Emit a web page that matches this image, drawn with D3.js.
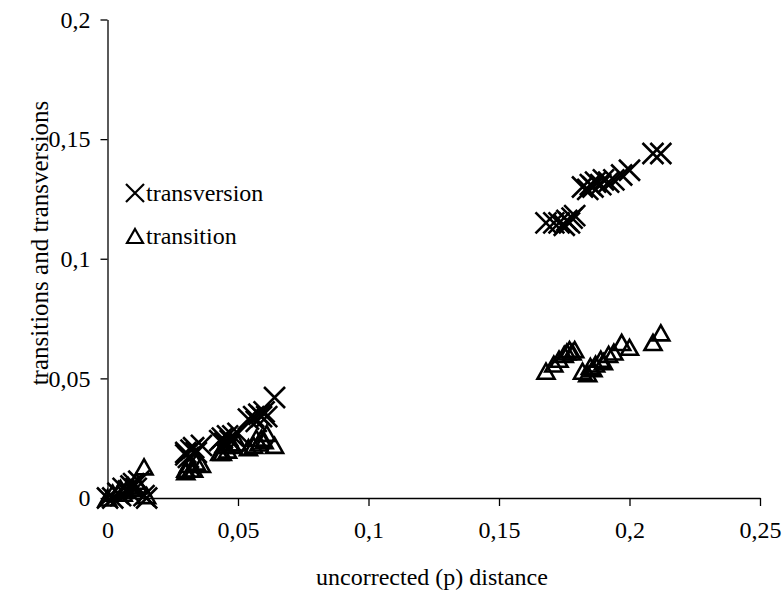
<!DOCTYPE html>
<html>
<head>
<meta charset="utf-8">
<script src="https://cdn.jsdelivr.net/npm/d3@7"></script>
<style>
  body { margin: 0; background: #fff; }
  svg text { font-family: "Liberation Serif", "Times New Roman", serif; fill: #000; }
</style>
</head>
<body>
<svg id="chart" width="783" height="591"></svg>
<script>
// uncorrected p distance of each pair, with its transversion and transition share
var pDistance   = [0, 0.002, 0.004, 0.005, 0.006, 0.008, 0.009, 0.010, 0.011, 0.012, 0.014, 0.015,
                   0.030, 0.030, 0.031, 0.032, 0.033, 0.034, 0.036,
                   0.043, 0.044, 0.045, 0.046, 0.047, 0.048, 0.050,
                   0.054, 0.056, 0.057, 0.058, 0.059, 0.060, 0.061, 0.064,
                   0.168, 0.171, 0.173, 0.175, 0.176, 0.177, 0.178, 0.179,
                   0.182, 0.184, 0.185, 0.186, 0.187, 0.189, 0.190, 0.192, 0.194, 0.197, 0.200,
                   0.209, 0.212];
var transversions = [0, 0, 0.002, 0.001, 0.004, 0.003, 0.005, 0.006, 0.004, 0.007, 0.001, 0,
                   0.018, 0.019, 0.017, 0.020, 0.021, 0.019, 0.022,
                   0.024, 0.025, 0.023, 0.026, 0.024, 0.026, 0.027,
                   0.033, 0.034, 0.032, 0.035, 0.034, 0.036, 0.034, 0.042,
                   0.115, 0.115, 0.115, 0.114, 0.116, 0.115, 0.117, 0.118,
                   0.130, 0.129, 0.131, 0.130, 0.132, 0.131, 0.133, 0.132, 0.133, 0.135, 0.137,
                   0.144, 0.144];
var transitions = [0, 0.002, 0.002, 0.004, 0.002, 0.005, 0.004, 0.004, 0.007, 0.005, 0.013, 0.001,
                   0.012, 0.011, 0.014, 0.012, 0.012, 0.015, 0.014,
                   0.019, 0.019, 0.022, 0.020, 0.023, 0.022, 0.023,
                   0.021, 0.022, 0.025, 0.023, 0.025, 0.024, 0.027, 0.022,
                   0.053, 0.056, 0.058, 0.060, 0.061, 0.062, 0.061, 0.062,
                   0.053, 0.052, 0.055, 0.054, 0.056, 0.058, 0.057, 0.060, 0.061, 0.065, 0.063,
                   0.065, 0.069];
var xTicks = [0, 0.05, 0.1, 0.15, 0.2, 0.25];
var yTicks = [0, 0.05, 0.1, 0.15, 0.2];
var seriesNames = ['transversion', 'transition'];

var svg = d3.select('#chart');
var x = d3.scaleLinear().domain([0, 0.25]).range([107.5, 760]);
var y = d3.scaleLinear().domain([0, 0.2]).range([498, 19.5]);
var fmt = (d) => String(d).replace('.', ',');

var xAxis = svg.append('g')
  .attr('transform', 'translate(0,' + y(0) + ')')
  .call(d3.axisBottom(x).tickValues(xTicks).tickFormat(fmt).tickSize(8).tickSizeOuter(0).tickPadding(15));
var yAxis = svg.append('g')
  .attr('transform', 'translate(' + x(0) + ',0)')
  .call(d3.axisLeft(y).tickValues(yTicks).tickFormat(fmt).tickSize(7).tickSizeOuter(0).tickPadding(10));

[xAxis, yAxis].forEach(function(ax) {
  ax.select('.domain').attr('stroke', '#000').attr('stroke-width', 1.3);
  ax.selectAll('.tick line').attr('stroke', '#000').attr('stroke-width', 1.3);
  ax.selectAll('.tick text').attr('font-size', 24).attr('font-family', '"Liberation Serif", serif');
});

// marker shapes
var crossPath = function(s) { return 'M' + (-s) + ',' + (-s) + 'L' + s + ',' + s + 'M' + (-s) + ',' + s + 'L' + s + ',' + (-s); };
var triPath = function(w, h) { return 'M0,' + (-h / 2) + 'L' + (w / 2) + ',' + (h / 2) + 'L' + (-w / 2) + ',' + (h / 2) + 'Z'; };

var pts = pDistance.map((p, i) => ({p: p, tv: transversions[i], ts: transitions[i]}));

svg.append('g').selectAll('path')
  .data(pts)
  .enter().append('path')
  .attr('d', triPath(17, 15))
  .attr('transform', (d) => 'translate(' + x(d.p) + ',' + y(d.ts) + ')')
  .attr('fill', 'none').attr('stroke', '#000').attr('stroke-width', 2.6);

svg.append('g').selectAll('path')
  .data(pts)
  .enter().append('path')
  .attr('d', crossPath(10.5))
  .attr('transform', (d) => 'translate(' + x(d.p) + ',' + y(d.tv) + ')')
  .attr('fill', 'none').attr('stroke', '#000').attr('stroke-width', 2.6);

// legend
var legend = svg.append('g');
legend.append('path').attr('d', crossPath(9)).attr('transform', 'translate(135,193)')
  .attr('fill', 'none').attr('stroke', '#000').attr('stroke-width', 2.2);
legend.append('path').attr('d', triPath(16, 14)).attr('transform', 'translate(135,236)')
  .attr('fill', 'none').attr('stroke', '#000').attr('stroke-width', 2.2);
legend.selectAll('text')
  .data(seriesNames)
  .enter().append('text')
  .attr('x', 146)
  .attr('y', (d, i) => 201 + i * 43)
  .attr('font-size', 24)
  .text((d) => d);

// axis titles
svg.append('text')
  .attr('x', 432).attr('y', 585)
  .attr('text-anchor', 'middle').attr('font-size', 24)
  .text('uncorrected (p) distance');
svg.append('text')
  .attr('transform', 'translate(48,243) rotate(-90)')
  .attr('text-anchor', 'middle').attr('font-size', 25)
  .text('transitions and transversions');
</script>
</body>
</html>
